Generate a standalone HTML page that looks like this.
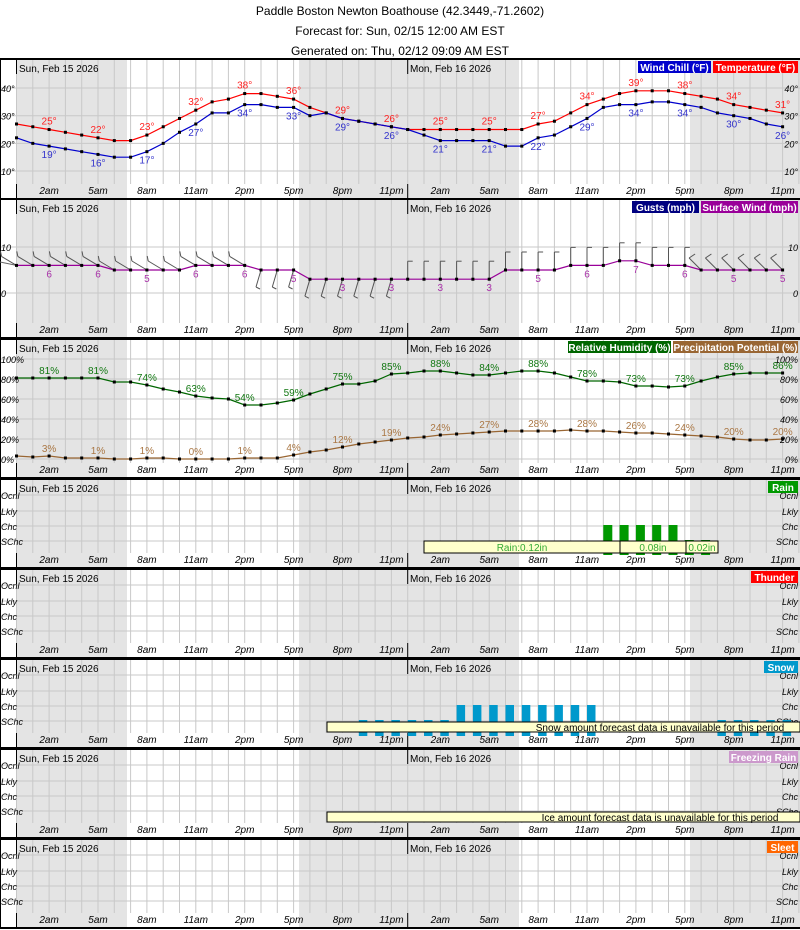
<!DOCTYPE html>
<html><head><meta charset="utf-8">
<style>
html,body{margin:0;padding:0;background:#fff;width:800px;height:930px;overflow:hidden}
svg{display:block;font-family:"Liberation Sans",sans-serif}
</style></head><body>
<svg id="s" width="800" height="930" xmlns="http://www.w3.org/2000/svg"></svg>
<script>
var s=document.getElementById('s'),h='';
var X=function(i){return 16.5+i*16.3;};
function t(x,y,str,o){o=o||{};h+='<text x="'+x+'" y="'+y+'" font-size="'+(o.fs||10)+'" fill="'+(o.c||'#000')+'"'+(o.it?' font-style="italic"':'')+(o.a?' text-anchor="'+o.a+'"':'')+(o.b?' font-weight="bold"':'')+'>'+str+'</text>';}
function r(x,y,w,hh,f,st){h+='<rect x="'+x+'" y="'+y+'" width="'+w+'" height="'+hh+'" fill="'+f+'"'+(st?' stroke="'+st+'" stroke-width="1"':'')+'/>';}
function l(x1,y1,x2,y2,c,w){h+='<line x1="'+x1+'" y1="'+y1+'" x2="'+x2+'" y2="'+y2+'" stroke="'+c+'" stroke-width="'+(w||1)+'"/>';}
t(400,15,'Paddle Boston Newton Boathouse (42.3449,-71.2602)',{a:'middle',fs:12});
t(400,35,'Forecast for: Sun, 02/15 12:00 AM EST',{a:'middle',fs:12});
t(400,55,'Generated on: Thu, 02/12 09:09 AM EST',{a:'middle',fs:12});
var hrs=['2am','5am','8am','11am','2pm','5pm','8pm','11pm'];
function panel(top,bot,hl,leftL,rightL,legends){
  r(0,top,800,bot-top,'#fff');
  r(16,top,111,bot-top,'#e4e4e4');r(299,top,220,bot-top,'#e4e4e4');r(690,top,110,bot-top,'#e4e4e4');
  for(var i=0;i<49;i++)l(X(i),top,X(i),bot-14,'#c8c8c8');
  hl.forEach(function(y){l(0,y,800,y,'#c8c8c8');});
  [0,24].forEach(function(k){l(X(k),top,X(k),top+14,'#000');l(X(k),bot-14,X(k),bot,'#000');});
  t(19,top+12,'Sun, Feb 15 2026');t(410,top+12,'Mon, Feb 16 2026');
  for(var d=0;d<2;d++)for(var k=0;k<8;k++)t(X(d*24+2+3*k),bot-4,hrs[k],{a:'middle',it:1});
  leftL.forEach(function(p){t(1,p[1]+4,p[0],{it:1,fs:9});});
  rightL.forEach(function(p){t(798,p[1]+4,p[0],{it:1,fs:9,a:'end'});});
  var xr=798;legends.slice().reverse().forEach(function(g){r(xr-g[1],top+1,g[1],12,g[2]);t(xr-g[1]/2,top+11,g[0],{c:'#fff',a:'middle',fs:10,b:1});xr-=g[1]+2;});
  l(0,top-1,800,top-1,'#000',2);l(0,bot+1,800,bot+1,'#000',2);l(0.5,top,0.5,bot,'#000');
}
function line(vals,fy,c){var p=vals.map(function(v,i){return X(i)+','+fy(v).toFixed(1);}).join(' ');
 h+='<polyline points="'+p+'" fill="none" stroke="'+c+'" stroke-width="1.2"/>';
 vals.forEach(function(v,i){r(X(i)-1.5,fy(v)-1.5,3,3,'#000');});}
function labels(vals,fy,c,dy,suf){for(var i=2;i<48;i+=3)t(X(i),fy(vals[i])+dy,vals[i]+suf,{c:c,a:'middle'});}
// Temp
var T=[27,26,25,24,23,22,21,21,23,26,29,32,35,36,38,38,37,36,33,31,29,28,27,26,25,25,25,25,25,25,25,25,27,28,31,34,36,38,39,39,39,38,37,36,34,33,32,31];
var W=[22,20,19,18,17,16,15,15,17,20,24,27,31,31,34,34,33,33,30,31,29,28,27,26,25,23,21,21,21,21,19,19,22,23,26,29,33,34,34,35,35,34,33,31,30,29,27,26];
var fT=function(v){return 198.7-2.767*v;};
panel(60,198,[88,115.7,143.4,171],[['40°',88],['30°',115.7],['20°',143.4],['10°',171]],[['40°',88],['30°',115.7],['20°',143.4],['10°',171]],[['Wind Chill (°F)',73,'#0000cc'],['Temperature (°F)',85,'#ff0000']]);
line(T,fT,'#ff0000');line(W,fT,'#0000cc');labels(T,fT,'#ff2222',-5,'°');labels(W,fT,'#3333cc',12,'°');
// Wind
var S=[6,6,6,6,6,6,5,5,5,5,5,6,6,6,6,5,5,5,3,3,3,3,3,3,3,3,3,3,3,3,5,5,5,5,6,6,6,7,7,6,6,6,5,5,5,5,5,5];
var fW=function(v){return 293-4.6*v;};
panel(200,337,[247,293],[['10',247],['0',293]],[['10',247],['0',293]],[['Gusts (mph)',67,'#000080'],['Surface Wind (mph)',97,'#990099']]);
h+='<polyline points="0,262 '+X(0)+','+fW(6)+'" stroke="#666" fill="none"/>';
S.forEach(function(v,i){var x=X(i),y=fW(v),c='#555';
 if(i<15){l(x,y,x-15,y-9,c);l(x-15,y-9,x-16,y-14,c);}
 else if(i<24){l(x,y,x-5,y+17,c);l(x-5,y+17,x-1,y+19,c);}
 else if(i<42){l(x,y,x,y-18,c);l(x,y-18,x+5,y-18,c);}
 else{l(x,y,x-12,y-12,c);l(x-12,y-12,x-6,y-16,c);}});
line(S,fW,'#990099');labels(S,fW,'#aa33aa',12,'');
// RH
var RH=[81,81,81,81,81,81,77,77,74,70,67,63,61,60,54,54,56,59,65,70,75,75,78,85,86,88,88,86,84,84,86,88,88,86,82,78,78,77,73,73,72,73,78,82,85,86,86,86];
var PP=[3,2,3,1,1,1,0,0,1,1,0,0,0,0,1,1,1,4,7,9,12,15,17,19,21,22,24,25,26,27,28,28,28,28,29,28,28,27,26,26,25,24,23,22,20,19,19,20];
var fR=function(v){return 459-v;};
var rl=[['100%',359],['80%',379],['60%',399],['40%',419],['20%',439],['0%',459]];
panel(340,477,[359,379,399,419,439,459],rl,rl,[['Relative Humidity (%)',103,'#006600'],['Precipitation Potential (%)',125,'#996633']]);
line(RH,fR,'#006600');line(PP,fR,'#996633');labels(RH,fR,'#117711',-4,'%');labels(PP,fR,'#aa7744',-4,'%');
// Qualitative panels
var ql=function(top){return [['Ocnl',top+15],['Lkly',top+31],['Chc',top+46],['SChc',top+61]];};
function qpanel(top,name,w,c){panel(top,top+87,[top+15,top+31,top+46,top+61],ql(top),ql(top),[[name,w,c]]);}
qpanel(480,'Rain',30,'#009900');
for(var i=36;i<=42;i++){var tl=i<41?525:540;r(X(i),tl,9,555-tl,'#009900');}
r(424,541,196,12,'#ffffcc','#000');r(620,541,66,12,'#ffffcc','#000');r(686,541,32,12,'#ffffcc','#000');
t(522,551,'Rain:0.12in',{c:'#33aa33',a:'middle'});t(653,551,'0.08in',{c:'#33aa33',a:'middle'});t(702,551,'0.02in',{c:'#33aa33',a:'middle'});
qpanel(570,'Thunder',47,'#ff0000');
qpanel(660,'Snow',34,'#0099cc');
for(var i=21;i<48;i++){if(i>=36&&i<=42)continue;var tall=(i>=27&&i<=35);r(X(i),tall?705:720,8.5,31-(tall?0:15),'#0099cc');}
r(327,722,473,10,'#ffffcc','#000');t(660,731,'Snow amount forecast data is unavailable for this period',{a:'middle'});
qpanel(750,'Freezing Rain',69,'#cc99cc');
r(327,812,473,10,'#ffffcc','#000');t(660,821,'Ice amount forecast data is unavailable for this period',{a:'middle'});
qpanel(840,'Sleet',31,'#ff6600');
s.innerHTML=h;
</script>
</body></html>
